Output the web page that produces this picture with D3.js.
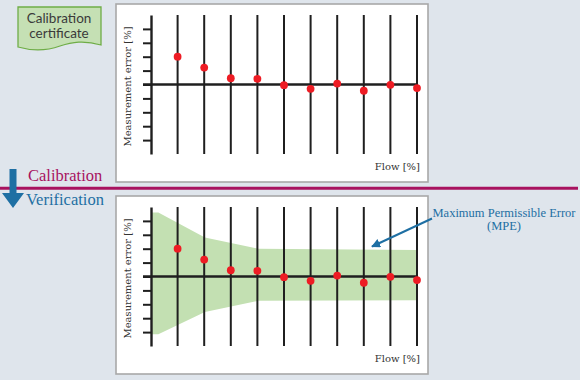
<!DOCTYPE html>
<html><head><meta charset="utf-8">
<script src="https://cdn.jsdelivr.net/npm/d3@7/dist/d3.min.js"></script>
<style>html,body{margin:0;padding:0;background:#dfe5ec;}svg{display:block;}</style>
</head><body>
<script>
const flowPoints = [1, 2, 3, 4, 5, 6, 7, 8, 9, 10];
const errorValues = [2.0, 1.22, 0.45, 0.41, -0.05, -0.31, 0.07, -0.45, -0.02, -0.26];
const yTicks = [-4, -3, -2, -1, 0, 1, 2, 3, 4];
const mpeFlow = [0, 0.25, 2, 4, 10];
const mpeUpper = [4.6, 4.6, 2.8, 2.0, 1.9];
const mpeLower = [-4.15, -4.15, -2.55, -1.75, -1.7];
const labels = {yLabel: "Measurement error [%]", xLabel: "Flow [%]", cert: ["Calibration", "certificate"],
  calib: "Calibration", verif: "Verification", mpe: ["Maximum Permissible Error", "(MPE)"]};

const W = 580, H = 380;
const svg = d3.select("body").append("svg").attr("width", W).attr("height", H);
svg.append("rect").attr("width", W).attr("height", H).attr("fill", "#dfe5ec");

const x = d3.scaleLinear().domain([0, 10]).range([151, 417]);
const serif = "'DejaVu Serif', serif";

function panel(top, withBand) {
  // panel box
  svg.append("rect").attr("x", 116).attr("y", top).attr("width", 312).attr("height", 178)
    .attr("fill", "#ffffff").attr("stroke", "#a8a8a8").attr("stroke-width", 1.6);
  const y = d3.scaleLinear().domain([-5, 5]).range([top + 150, top + 11]);
  const g = svg.append("g");
  if (withBand) {
    const pts = mpeFlow.map((f, i) => ({f, u: mpeUpper[i], l: mpeLower[i]}));
    g.append("path").datum(pts)
      .attr("d", d3.area().x(d => x(d.f) + 0.7).y0(d => y(d.l)).y1(d => y(d.u)))
      .attr("fill", "#c3e0b2");
  }
  // vertical flow lines
  g.selectAll("line.v").data(flowPoints).join("line")
    .attr("x1", d => x(d)).attr("x2", d => x(d))
    .attr("y1", y(5)).attr("y2", y(-5))
    .attr("stroke", "#1f1f1f").attr("stroke-width", 2);
  // y axis
  const ax = g.append("g").attr("transform", `translate(${x(0)},0)`)
    .call(d3.axisLeft(y).tickValues(yTicks).tickSize(8).tickSizeOuter(0).tickFormat(""));
  ax.select(".domain").attr("stroke", "#1f1f1f").attr("stroke-width", 2.4);
  ax.selectAll(".tick line").attr("stroke", "#1f1f1f").attr("stroke-width", 2);
  // zero line
  g.append("line").attr("x1", x(0) - 8).attr("x2", x(10)).attr("y1", y(0)).attr("y2", y(0))
    .attr("stroke", "#1f1f1f").attr("stroke-width", 2.6);
  // points
  g.selectAll("circle").data(errorValues).join("circle")
    .attr("cx", (d, i) => x(flowPoints[i])).attr("cy", d => y(d)).attr("r", 3.9)
    .attr("fill", "#ee1c24");
  // labels
  g.append("text").attr("transform", `translate(131,${y(0) + 2}) rotate(-90)`)
    .attr("text-anchor", "middle").attr("font-family", serif).attr("font-size", 10)
    .attr("fill", "#333").text(labels.yLabel);
  g.append("text").attr("x", 420).attr("y", top + 166).attr("text-anchor", "end")
    .attr("font-family", serif).attr("font-size", 10).attr("fill", "#333").text(labels.xLabel);
}

panel(4, false);
panel(196, true);

// calibration certificate shape
svg.append("path")
  .attr("d", "M18,7 H101 V45 C84,40 72,42 60,46 C46,51 32,51 18,47 Z")
  .attr("fill", "#c5e0b4").attr("stroke", "#6fad47").attr("stroke-width", 1.3);
svg.selectAll("text.cert").data(labels.cert).join("text").attr("class", "cert")
  .attr("x", 59).attr("y", (d, i) => 23 + i * 15).attr("text-anchor", "middle")
  .attr("font-family", "Lato, sans-serif").attr("font-size", 13.5).attr("fill", "#3a3a3a").text(d => d);

// separator line
svg.append("line").attr("x1", 0).attr("x2", 578).attr("y1", 188.3).attr("y2", 188.3)
  .attr("stroke", "#a8125f").attr("stroke-width", 3);

// blue down arrow
svg.append("path").attr("d", "M9.5,169 H16.5 V193 H24 L13,208 L2,193 H9.5 Z").attr("fill", "#1e6fa3");

svg.append("text").attr("x", 28).attr("y", 180.5).attr("font-family", "'Liberation Serif', serif")
  .attr("font-size", 16.5).attr("fill", "#a8125f").text(labels.calib);
svg.append("text").attr("x", 26).attr("y", 205).attr("font-family", "'Liberation Serif', serif")
  .attr("font-size", 16.5).attr("fill", "#1e6fa3").text(labels.verif);

// MPE annotation
svg.selectAll("text.mpe").data(labels.mpe).join("text").attr("class", "mpe")
  .attr("x", 504).attr("y", (d, i) => 216.5 + i * 13.5).attr("text-anchor", "middle")
  .attr("font-family", "'Liberation Serif', serif").attr("font-size", 12.5).attr("fill", "#1e6fa3").text(d => d);
svg.append("defs").append("marker").attr("id", "ah").attr("viewBox", "0 0 10 10")
  .attr("refX", 9).attr("refY", 5).attr("markerWidth", 4.5).attr("markerHeight", 4.5)
  .attr("orient", "auto").attr("markerUnits", "strokeWidth")
  .append("path").attr("d", "M0,0 L10,5 L0,10 Z").attr("fill", "#1e6fa3");
svg.append("line").attr("x1", 432).attr("y1", 218.5).attr("x2", 372).attr("y2", 246.5)
  .attr("stroke", "#1e6fa3").attr("stroke-width", 2).attr("marker-end", "url(#ah)");
</script>
</body></html>
